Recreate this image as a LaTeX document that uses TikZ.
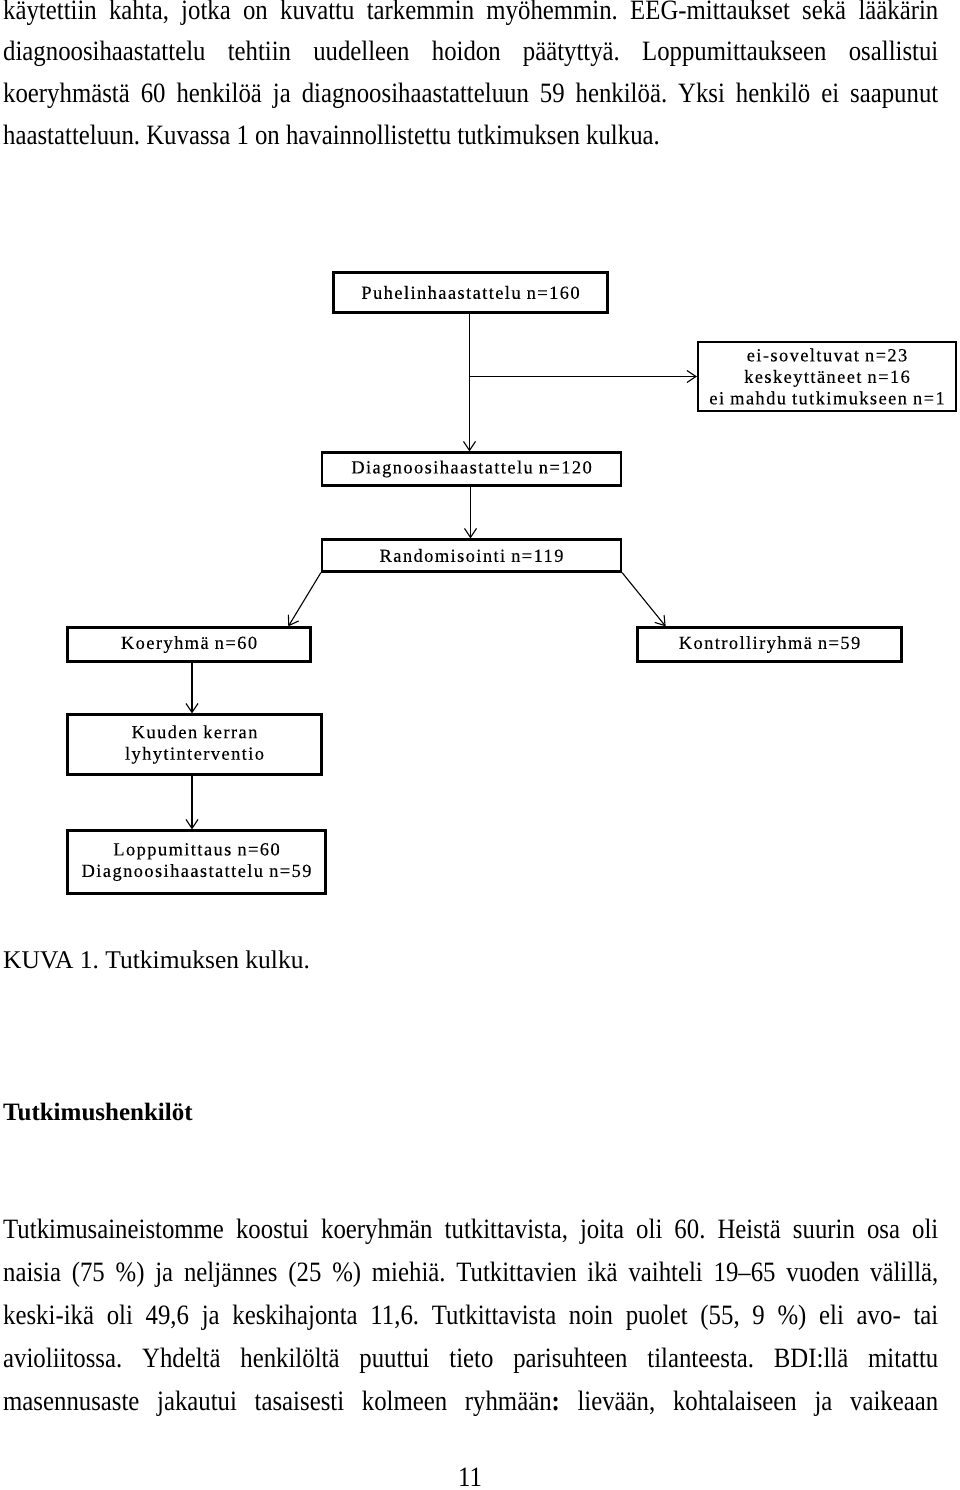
\documentclass[tikz,border=0pt]{standalone}
\usepackage{fontspec}
\setmainfont{Liberation Serif}
\newfontfamily\bodyfont[FakeStretch=0.885]{Liberation Serif}
\newfontfamily\boxfont[LetterSpace=7.5,FakeBold=0.15]{Liberation Serif}
\usetikzlibrary{arrows.meta,calc}
\frenchspacing
\tikzset{
  bodyline/.style={anchor=base west, inner sep=0pt, font=\bodyfont\fontsize{28}{34}\selectfont\frenchspacing},
  capline/.style={anchor=base west, inner sep=0pt, font=\fontsize{25.5}{30}\selectfont\frenchspacing},
  headline/.style={anchor=base west, inner sep=0pt, font=\bfseries\fontsize{25}{30}\selectfont},
  fbox/.style={draw=black, line width=2.2pt, inner sep=0pt, align=center,
     font=\boxfont\fontsize{18.5}{21.5}\selectfont},
  conn/.style={draw=black, line width=1.1pt, -{Straight Barb[length=9pt,width=12pt,line width=1.1pt]}}
}
\newcommand{\jline}[1]{\makebox[935pt][s]{#1}}
\begin{document}
\begin{tikzpicture}[x=1pt,y=-1pt]
\useasboundingbox (0,0) rectangle (960,1490);
\fill[white] (0,0) rectangle (960,1490);

% paragraph 1
\node[bodyline] (p1a) at (3,19.5) {\jline{käytettiin kahta, jotka on kuvattu tarkemmin myöhemmin. EEG-mittaukset sekä lääkärin}};
\node[bodyline] (p1b) at (3,61) {\jline{diagnoosihaastattelu tehtiin uudelleen hoidon päätyttyä. Loppumittaukseen osallistui}};
\node[bodyline] (p1c) at (3,103) {\jline{koeryhmästä 60 henkilöä ja diagnoosihaastatteluun 59 henkilöä. Yksi henkilö ei saapunut}};
\node[bodyline] (p1d) at (3,145) {haastatteluun. Kuvassa 1 on havainnollistettu tutkimuksen kulkua.};

% diagram
\node[fbox, minimum width=274pt, minimum height=40pt] (P) at (470.5,292.5) {Puhelinhaastattelu n=160};
\node[fbox, minimum width=258pt, minimum height=69pt] (E) at (827,376.5) {ei-soveltuvat n=23\\keskeyttäneet n=16\\ei mahdu tutkimukseen n=1};
\node[fbox, minimum width=299pt, minimum height=33pt] (D) at (471.5,469) {Diagnoosihaastattelu n=120};
\node[fbox, minimum width=299pt, minimum height=32pt] (R) at (471.5,555.5) {Randomisointi n=119};
\node[fbox, minimum width=243pt, minimum height=34pt] (K) at (189,644.5) {Koeryhmä n=60};
\node[fbox, minimum width=264pt, minimum height=34pt] (C) at (769.5,644.5) {Kontrolliryhmä n=59};
\node[fbox, minimum width=254pt, minimum height=60pt] (I) at (194.5,744.5) {Kuuden kerran\\lyhytinterventio};
\node[fbox, minimum width=258pt, minimum height=63pt] (L) at (196.5,862) {Loppumittaus n=60\\Diagnoosihaastattelu n=59};

\coordinate (branch) at (P.south |- E.west);
\draw[conn] ([xshift=-1pt]P.south) -- ([xshift=-1pt]P.south |- D.north);
\draw[conn] ([xshift=-1pt]branch) -- (E.west);
\draw[conn] ([xshift=-1pt]D.south) -- ([xshift=-1pt]D.south |- R.north);
\draw[conn] (R.south west) -- ($(K.north west)!0.905!(K.north east)$);
\draw[conn] (R.south east) -- ($(C.north west)!0.11!(C.north east)$);
\draw[conn] ([xshift=3pt]K.south) -- ([xshift=3pt]K.south |- I.north);
\draw[conn] ([xshift=-2.5pt]I.south) -- ([xshift=-2.5pt]I.south |- L.north);

% caption and heading
\node[capline] (cap) at (3,968) {KUVA 1. Tutkimuksen kulku.};
\node[headline] (head) at (3,1120) {Tutkimushenkilöt};

% paragraph 2
\node[bodyline] (p2a) at (3,1238) {\jline{Tutkimusaineistomme koostui koeryhmän tutkittavista, joita oli 60. Heistä suurin osa oli}};
\node[bodyline] (p2b) at (3,1281) {\jline{naisia (75 \%) ja neljännes (25 \%) miehiä. Tutkittavien ikä vaihteli 19–65 vuoden välillä,}};
\node[bodyline] (p2c) at (3,1324) {\jline{keski-ikä oli 49,6 ja keskihajonta 11,6. Tutkittavista noin puolet (55, 9 \%) eli avo- tai}};
\node[bodyline] (p2d) at (3,1367) {\jline{avioliitossa. Yhdeltä henkilöltä puuttui tieto parisuhteen tilanteesta. BDI:llä mitattu}};
\node[bodyline] (p2e) at (3,1410) {\jline{masennusaste jakautui tasaisesti kolmeen ryhmään\textbf{:} lievään, kohtalaiseen ja vaikeaan}};

\node[bodyline, anchor=base] (pg) at (470,1486) {11};
\end{tikzpicture}
\end{document}
